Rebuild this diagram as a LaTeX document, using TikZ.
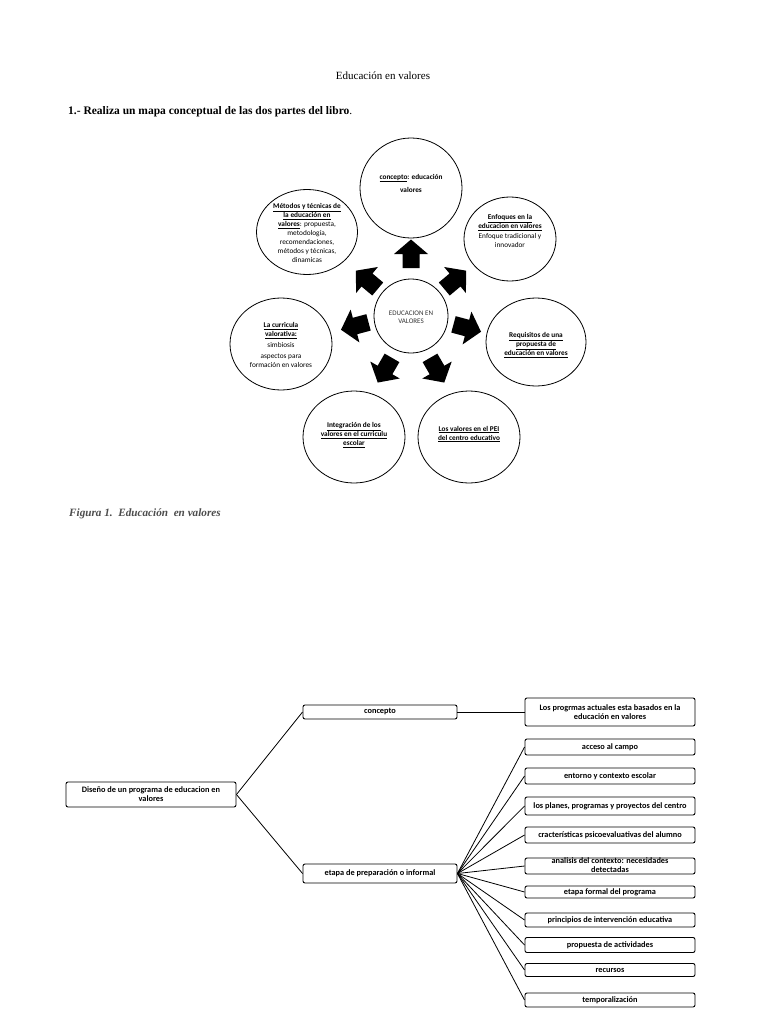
\documentclass[tikz,border=0pt]{standalone}
\usepackage{fontspec}
\setmainfont{Liberation Serif}
\newfontfamily\calfont{Carlito}
\usetikzlibrary{shapes.geometric}
\newcommand\ulb[1]{\underline{\textbf{#1}}}
\begin{document}
\begin{tikzpicture}[x=1pt,y=-1pt,
 circ/.style={draw, ellipse, line width=0.8pt, inner sep=0pt},
 ctext/.style={font=\calfont\fontsize{7.3}{9}\selectfont, align=center, inner sep=0pt},
 box/.style={draw, rounded corners=2pt, line width=0.9pt, inner sep=0pt, minimum width=170pt, font=\calfont\bfseries\fontsize{8.3}{8.8}\selectfont, align=center},
 mbox/.style={box, minimum width=154pt},
 link/.style={line width=0.8pt},
 barrow/.pic={\fill[black] (-14,-8.5) -- (0,-8.5) -- (0,-17) -- (14.5,0) -- (0,17) -- (0,8.5) -- (-14,8.5) -- cycle;}
]
\useasboundingbox (0,0) rectangle (768,1024);
\fill[white] (0,0) rectangle (768,1024);

% headings
\node[anchor=base, inner sep=0pt, font=\fontsize{11}{13}\selectfont] (hdr) at (383,80) {Educación en valores};
\node[anchor=base west, inner sep=0pt, font=\fontsize{11.5}{13}\selectfont] (q1) at (68,115) {\textbf{1.- Realiza un mapa conceptual de las dos partes del libro}.};
\node[anchor=base west, inner sep=0pt, text=black!70, font=\bfseries\itshape\fontsize{11.2}{12}\selectfont] (fig) at (69,516) {Figura 1.\ \ Educación\ \ en valores};

% circles
\node[circ, minimum width=102pt, minimum height=100pt] (cc) at (411,188) {};
\node[circ, minimum width=101pt, minimum height=85pt] (cm) at (307,232) {};
\node[circ, minimum width=92pt, minimum height=84pt] (ce) at (510,239) {};
\node[circ, minimum width=100pt, minimum height=88pt] (cr) at (536,342) {};
\node[circ, minimum width=102pt, minimum height=92pt] (cl) at (281,344) {};
\node[circ, minimum width=102pt, minimum height=92pt] (ci) at (354,437) {};
\node[circ, minimum width=102pt, minimum height=92pt] (cp) at (469,437) {};
\node[circ, minimum width=74pt, minimum height=74pt] (c0) at (411,316) {};

% circle texts
\node[ctext] (tc) at (411,183) {\ulb{concepto}\textbf{: educación}\\[4pt]\textbf{valores}};
\node[ctext] (tm) at (307,233) {\ulb{Métodos y técnicas de}\\\ulb{la educación en}\\\ulb{valores}: propuesta,\\metodología,\\recomendaciones,\\métodos y técnicas,\\dinamicas};
\node[ctext] (te) at (510,231) {\ulb{Enfoques en la}\\\ulb{educacion en valores}\\[1.5pt]Enfoque tradicional y\\innovador};
\node[ctext] (tr) at (536,345) {\ulb{Requisitos de una}\\\ulb{propuesta de}\\\ulb{educación en valores}};
\node[ctext] (tl) at (281,345) {\ulb{La curricula}\\\ulb{valorativa:}\\[2pt]simbiosis\\[2pt]aspectos para\\formación en valores};
\node[ctext] (ti) at (354,435) {\ulb{Integración de los}\\\ulb{valores en el curriculu}\\\ulb{escolar}};
\node[ctext] (tp) at (469,434) {\ulb{Los valores en el PEI}\\\ulb{del centro educativo}};
\node[ctext, text=black!80, font=\calfont\fontsize{7}{8}\selectfont] (t0) at (411,317) {EDUCACION EN\\VALORES};

% block arrows
\pic[rotate=90] at (411,254) {barrow};
\pic[rotate=140] at (367,280) {barrow};
\pic[rotate=40] at (455,280) {barrow};
\pic[rotate=195] at (355,326) {barrow};
\pic[rotate=-15] at (467,328) {barrow};
\pic[rotate=-120] at (385,370) {barrow};
\pic[rotate=-60] at (437,370) {barrow};

% second diagram
\node[box, minimum height=25pt] (root) at (151,794.5) {Diseño de un programa de educacion en\\valores};
\node[mbox, minimum height=14pt] (cpt) at (380,712) {concepto};
\node[mbox, minimum height=19pt] (etp) at (380,873.5) {etapa de preparación o informal};

\node[box, minimum height=28pt] (r0) at (610,712) {Los progrmas actuales esta basados en la\\educación en valores};
\node[box, minimum height=16pt] (r1) at (610,747) {acceso al campo};
\node[box, minimum height=16pt] (r2) at (610,776) {entorno y contexto escolar};
\node[box, minimum height=18pt] (r3) at (610,806) {los planes, programas y proyectos del centro};
\node[box, minimum height=16pt] (r4) at (610,835) {cracterísticas psicoevaluativas del alumno};
\node[box, minimum height=16pt] (r5) at (610,866) {};
\node[inner sep=0pt, align=center, font=\calfont\bfseries\fontsize{8.3}{9}\selectfont] (r5t) at (610,865.5) {analisis del contexto: necesidades\\detectadas};
\node[box, minimum height=12pt] (r6) at (610,892) {etapa formal del programa};
\node[box, minimum height=14pt] (r7) at (610,920) {principios de intervención educativa};
\node[box, minimum height=15pt] (r8) at (610,945) {propuesta de actividades};
\node[box, minimum height=13pt] (r9) at (610,970) {recursos};
\node[box, minimum height=14pt] (r10) at (610,1000) {temporalización};

\draw[link] (root.east) -- (cpt.west);
\draw[link] (root.east) -- (etp.west);
\draw[link] (cpt.east) -- (r0.west);
\foreach \r in {r1,r2,r3,r4,r5,r6,r7,r8,r9,r10}
  \draw[link] (etp.east) -- (\r.west);
\end{tikzpicture}
\end{document}
